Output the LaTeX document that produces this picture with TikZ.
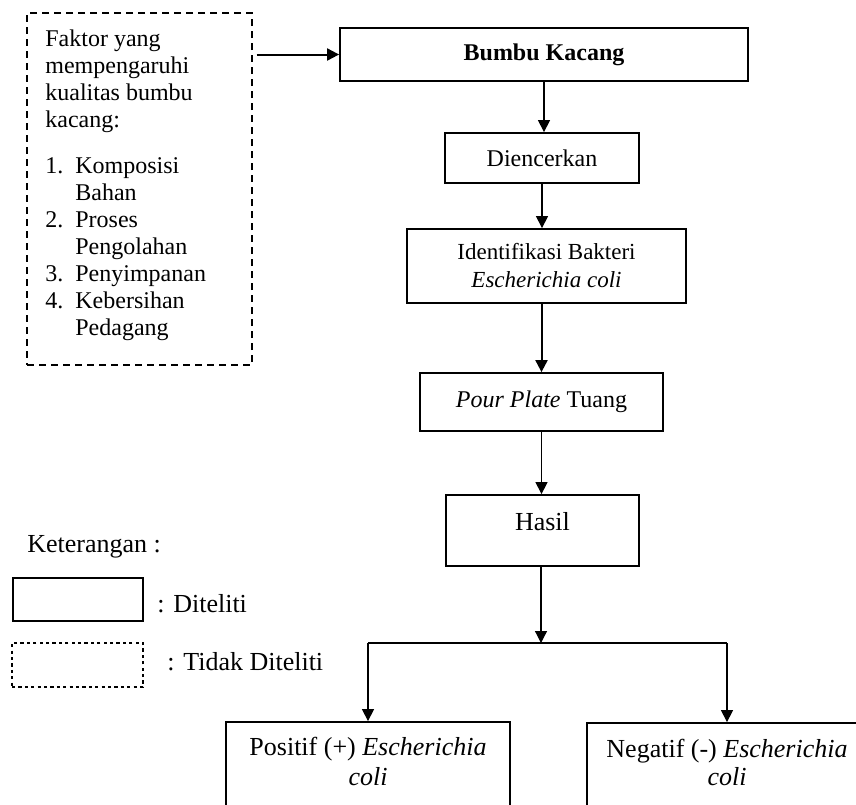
\documentclass[tikz,border=0pt]{standalone}
\usepackage{fontspec}
\setmainfont{Liberation Serif}
\usetikzlibrary{arrows.meta}
\begin{document}
\begin{tikzpicture}[x=0.5pt,y=-0.5pt,
  font=\fontsize{12}{13.5}\selectfont,
  box/.style={draw, line width=0.9pt, inner sep=0pt, align=center},
  arr/.style={-{Triangle[width=6pt,length=6pt]}, line width=0.6pt},
  thickarr/.style={arr, line width=1pt},
  txt/.style={inner sep=0pt, align=center},
  big/.style={font=\fontsize{13}{15}\selectfont}]
\clip (0,0) rectangle (856,804);
% factor box (not studied)
\node[box, dash pattern=on 3.5pt off 2.5pt, line width=0.7pt,
      minimum width=112.5pt, minimum height=176pt] (faktor) at (139.5,189) {};
\node[txt, anchor=north west, align=left] (faktortext) at (45,29)
  {Faktor yang\\mempengaruhi\\kualitas bumbu\\kacang:\\[9.5pt]
   \makebox[15pt][l]{1.}Komposisi\\\hspace*{15pt}Bahan\\
   \makebox[15pt][l]{2.}Proses\\\hspace*{15pt}Pengolahan\\
   \makebox[15pt][l]{3.}Penyimpanan\\
   \makebox[15pt][l]{4.}Kebersihan\\\hspace*{15pt}Pedagang};
% main flow
\node[box, minimum width=204pt, minimum height=26.5pt,
      font=\fontsize{12}{13.5}\selectfont\bfseries] (bumbu) at (544,54.5) {Bumbu Kacang};
\node[box, minimum width=97pt, minimum height=25pt] (dien) at (542,158) {Diencerkan};
\node[box, minimum width=139.5pt, minimum height=37pt,
      font=\fontsize{11.5}{14}\selectfont] (ident) at (546.5,266)
  {Identifikasi Bakteri\\\textit{Escherichia coli}};
\node[box, minimum width=121.5pt, minimum height=29pt] (pour) at (541.5,402) {\textit{Pour Plate} Tuang};
\node[box, minimum width=96.5pt, minimum height=35.5pt] (hasil) at (542.5,530.5) {};
\node[txt, big, anchor=base] (hasiltext) at (542.5,530) {Hasil};
\node[box, minimum width=142pt, minimum height=59pt] (pos) at (368,781) {};
\node[txt, big, anchor=base] (postext1) at (368,755) {Positif (+) \textit{Escherichia}};
\node[txt, big, anchor=base] (postext2) at (368,785) {\textit{coli}};
\node[box, minimum width=140pt, minimum height=58.5pt] (neg) at (727,781.5) {};
\node[txt, big, anchor=base] (negtext1) at (727,757) {Negatif (-) \textit{Escherichia}};
\node[txt, big, anchor=base] (negtext2) at (727,785) {\textit{coli}};
% connectors
\draw[thickarr] ([xshift=2pt]faktor.east |- bumbu.west) -- (bumbu.west);
\draw[arr] (bumbu.south) -- (bumbu.south |- dien.north);
\draw[arr] (dien.south) -- (dien.south |- ident.north);
\draw[thickarr] (pour.north |- ident.south) -- (pour.north);
\draw[arr] (pour.south) -- (pour.south |- hasil.north);
\coordinate (split) at (541,643);
\coordinate (splitL) at (368,643);
\coordinate (splitR) at (727,643);
\draw[arr] (hasil.south -| split) -- (split);
\draw[line width=0.6pt] (splitL) -- (splitR);
\draw[arr] (splitL) -- (pos.north);
\draw[arr] (splitR) -- (neg.north);
% legend
\node[txt, big, anchor=base west] (ket) at (27,552) {Keterangan :};
\node[draw, line width=0.6pt, inner sep=0pt, minimum width=65pt, minimum height=21.5pt] (legsolid) at (78,599.5) {};
\node[txt, big, anchor=base west] (legsolidtext) at (157,612) {: Diteliti};
\node[draw, line width=1.3pt, dash pattern=on 1.6pt off 1.6pt, inner sep=0pt,
      minimum width=65.5pt, minimum height=22pt] (legdot) at (77.5,665) {};
\node[txt, big, anchor=base west] (legdottext) at (167,670) {: Tidak Diteliti};
\end{tikzpicture}
\end{document}
